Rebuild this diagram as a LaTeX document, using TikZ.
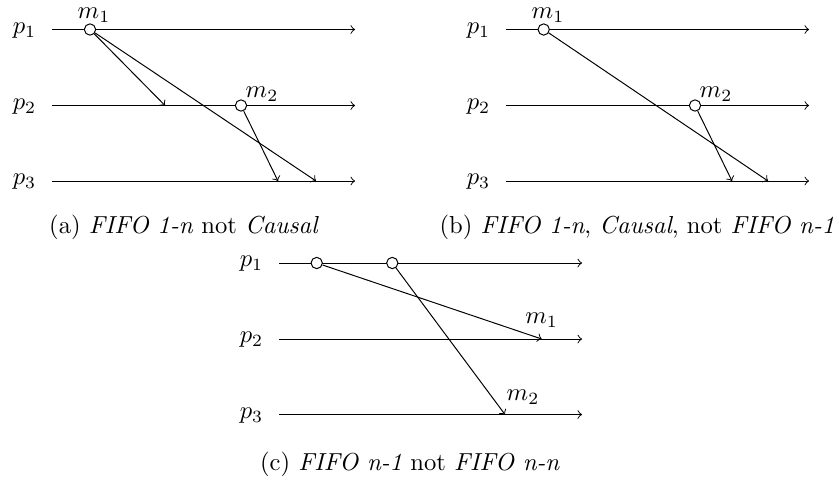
\documentclass[tikz,border=0pt]{standalone}
\usepackage{xcolor}

\begin{document}
\begin{tikzpicture}[x=0.4065pt,y=-0.4065pt,
  proc/.style={->},
  msg/.style={->},
  event/.style={circle,draw,fill=white,inner sep=0pt,minimum size=4.6pt},
  plabel/.style={inner sep=0pt},
  mlabel/.style={inner sep=0pt},
  caption/.style={inner sep=0pt}]
  % Page frame in pixel units, y pointing down.
  \useasboundingbox (0,0) rectangle (839,482);

  % Process lines: same geometry for the three runs, shifted.
  \foreach \f/\dx/\dy in {a/0/0,b/454/0,c/227/233.5} {
    \begin{scope}[shift={(\dx,\dy)}]
      \foreach \i/\yy in {1/29.5,2/105.5,3/181} {
        \node[plabel] (\f-p\i) at (24.5,\yy+1) {$p_\i$};
        \coordinate (\f-s\i) at (52,\yy);
        \coordinate (\f-e\i) at (355,\yy);
        \draw[proc] (\f-s\i) -- (\f-e\i);
      }
    \end{scope}
  }

  % (a) FIFO 1-n but not causal.
  \node[event] (a-m1) at (90,29.5) {};
  \node[event] (a-m2) at (241,105.5) {};
  \node[mlabel] (a-m1l) at (94,15) {$m_1$};
  \node[mlabel] (a-m2l) at (262,94) {$m_2$};
  \coordinate (a-r1) at (165,105.5);
  \coordinate (a-r2) at (316,181);
  \coordinate (a-r3) at (278,181);
  \draw[msg] (a-m1) -- (a-r1);
  \draw[msg] (a-m1) -- (a-r2);
  \draw[msg] (a-m2) -- (a-r3);
  \node[caption] (a-cap) at (184,227)
    {(a) \textit{FIFO 1-n} not \textit{Causal}};

  % (b) causal, not FIFO n-1.
  \node[event] (b-m1) at (543.7,29.5) {};
  \node[event] (b-m2) at (695,105.5) {};
  \node[mlabel] (b-m1l) at (548,15) {$m_1$};
  \node[mlabel] (b-m2l) at (716,94) {$m_2$};
  \coordinate (b-r1) at (768,181);
  \coordinate (b-r2) at (732,181);
  \draw[msg] (b-m1) -- (b-r1);
  \draw[msg] (b-m2) -- (b-r2);
  \node[caption] (b-cap) at (637,227)
    {(b) \textit{FIFO 1-n}, \textit{Causal}, not \textit{FIFO n-1}};

  % (c) FIFO n-1 but not FIFO n-n.
  \node[event] (c-m1) at (316.7,263) {};
  \node[event] (c-m2) at (392.3,263) {};
  \node[mlabel] (c-m1l) at (541.7,320) {$m_1$};
  \node[mlabel] (c-m2l) at (523,397) {$m_2$};
  \coordinate (c-r1) at (541.7,339);
  \coordinate (c-r2) at (505,414.5);
  \draw[msg] (c-m1) -- (c-r1);
  \draw[msg] (c-m2) -- (c-r2);
  \node[caption] (c-cap) at (410,464)
    {(c) \textit{FIFO n-1} not \textit{FIFO n-n}};
\end{tikzpicture}
\end{document}
